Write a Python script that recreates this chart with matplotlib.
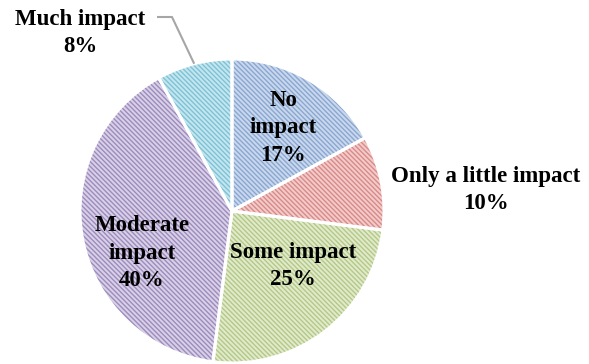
import numpy as np
import matplotlib
matplotlib.use("Agg")
import matplotlib.pyplot as plt

# Réponses : impact perçu
categories = ["No impact", "Only a little impact", "Some impact", "Moderate impact", "Much impact"]
libelles = ["No\nimpact", "Only a little impact", "Some impact", "Moderate\nimpact", "Much impact"]
pourcentages = [17, 10, 25, 40, 8]

# Couleurs : fond clair + hachures plus foncées
fonds = ["#c9d8ec", "#f2cccb", "#e2eacd", "#d9d1e6", "#c6e6ef"]
hachures = ["#8aa7d2", "#d98a88", "#b3c985", "#9d8bbf", "#7cc3d6"]

W, H = 589, 364
fig = plt.figure(figsize=(W / 100, H / 100), dpi=100)
ax = fig.add_axes([0, 0, 1, 1])

cx, cy, R = 232, H - 211, 152
eclat = [0.02] * len(pourcentages)

plt.rcParams["hatch.linewidth"] = 1.0
wedges, _ = ax.pie(
    pourcentages,
    startangle=90,
    counterclock=False,
    center=(cx, cy),
    radius=R,
    explode=eclat,
    colors=fonds,
    frame=True,
)
for w, hc in zip(wedges, hachures):
    w.set_edgecolor(hc)
    w.set_linewidth(0)
    w.set_hatch("\\\\\\\\\\\\\\")

# contours blancs par-dessus (séparation des secteurs)
ax.pie(
    pourcentages,
    startangle=90,
    counterclock=False,
    center=(cx, cy),
    radius=R,
    explode=eclat,
    colors=["none"] * len(pourcentages),
    wedgeprops=dict(edgecolor="white", linewidth=2.2),
    frame=True,
)

ax.set_xlim(0, W)
ax.set_ylim(0, H)
ax.set_aspect("equal")
ax.axis("off")

police = dict(family="Liberation Serif", weight="bold", fontsize=16.5,
              ha="center", va="center", linespacing=1.38, color="black")

# positions des étiquettes (pixels, origine en haut à gauche)
pos_etiquettes = [(283, 128), (486, 190), (293, 266), (142, 253), (80, 33)]
for lib, p, (x, y) in zip(libelles, pourcentages, pos_etiquettes):
    ax.text(x, H - y, f"{lib}\n{p}%", **police)

# ligne de rappel vers "Much impact"
w = wedges[-1]
ang = np.deg2rad((w.theta1 + w.theta2) / 2)
xb = w.center[0] + R * np.cos(ang)
yb = w.center[1] + R * np.sin(ang)
ax.plot([157, 172, xb], [H - 17, H - 17, yb], color="#a6a6a6", lw=1.5,
        solid_capstyle="butt")

fig.savefig("out.png", dpi=100)
